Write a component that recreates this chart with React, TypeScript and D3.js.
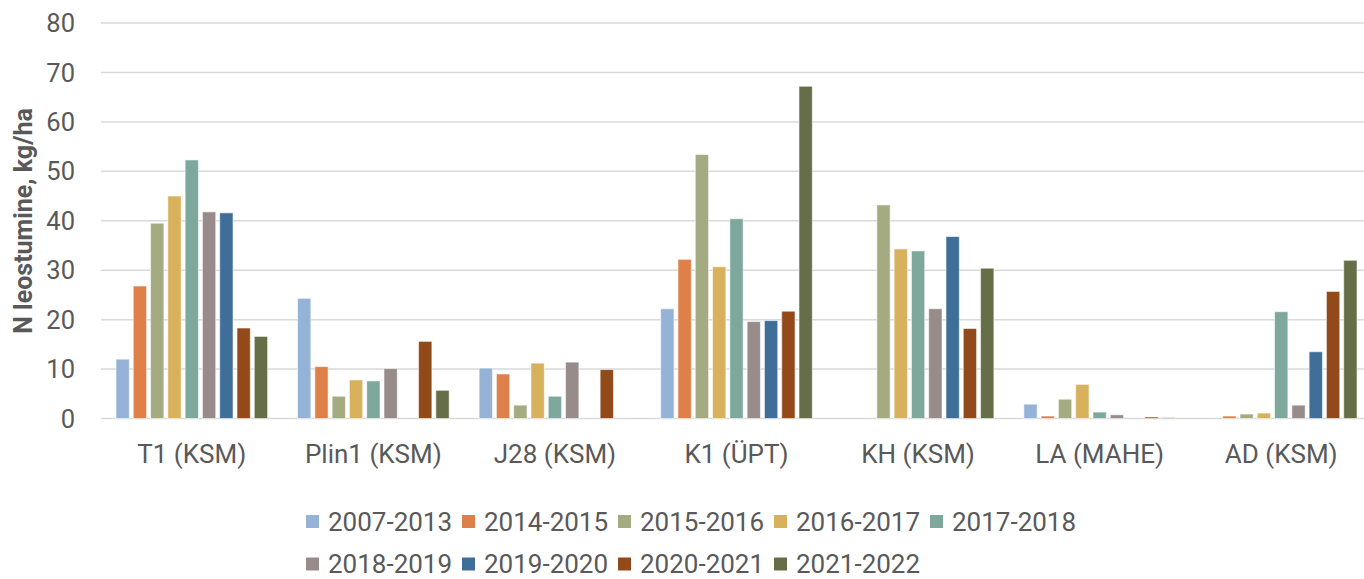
import React from "react";
import * as d3 from "d3";

const categories = ["T1 (KSM)", "Plin1 (KSM)", "J28 (KSM)", "K1 (ÜPT)", "KH (KSM)", "LA (MAHE)", "AD (KSM)"];
const seriesNames = ["2007-2013", "2014-2015", "2015-2016", "2016-2017", "2017-2018", "2018-2019", "2019-2020", "2020-2021", "2021-2022"];
const seriesColors = ["#95B3D7", "#DE8048", "#A5AB80", "#D8B15C", "#7EA89C", "#978C8A", "#3F6F98", "#934A1B", "#666E47"];

const v2007_2013 = [12.0, 24.3, 10.2, 22.2, null, 2.9, null];
const v2014_2015 = [26.8, 10.5, 9.0, 32.2, null, 0.5, 0.5];
const v2015_2016 = [39.5, 4.5, 2.7, 53.4, 43.2, 3.9, 0.9];
const v2016_2017 = [45.0, 7.8, 11.2, 30.7, 34.3, 6.9, 1.1];
const v2017_2018 = [52.3, 7.6, 4.5, 40.4, 33.9, 1.3, 21.6];
const v2018_2019 = [41.8, 10.1, 11.4, 19.6, 22.2, 0.75, 2.7];
const v2019_2020 = [41.6, null, null, 19.8, 36.8, null, 13.5];
const v2020_2021 = [18.3, 15.6, 9.9, 21.7, 18.2, 0.3, 25.7];
const v2021_2022 = [16.6, 5.7, null, 67.2, 30.4, 0.15, 32.0];

const seriesValues: (number | null)[][] = [
  v2007_2013, v2014_2015, v2015_2016, v2016_2017, v2017_2018,
  v2018_2019, v2019_2020, v2020_2021, v2021_2022,
];

const yTicks = [0, 10, 20, 30, 40, 50, 60, 70, 80];
const yTitle = "N leostumine, kg/ha";

const W = 1364;
const H = 579;
const FONT = "Roboto, 'Noto Sans', sans-serif";
const TEXT = "#595959";

export default function App() {
  const x0 = d3.scaleBand<string>().domain(categories).range([101, 1372]).paddingInner(0.165).paddingOuter(0.0825);
  const x1 = d3.scaleBand<string>().domain(seriesNames).range([0, x0.bandwidth()]).paddingInner(0.23).paddingOuter(0);
  const y = d3.scaleLinear().domain([0, 80]).range([418.5, 23]);

  const legendCols = 5;
  const legendX0 = 306;
  const legendColW = 156;
  const legendY0 = 521.5;
  const legendRowH = 42.5;

  return (
    <svg width={W} height={H} style={{ position: "absolute", left: 0, top: 0, display: "block" }} fontFamily={FONT}>
      <rect width={W} height={H} fill="#fff" />
      {yTicks.map((t) => (
        <g key={t}>
          <line x1={101} x2={W} y1={y(t)} y2={y(t)} stroke="#D9D9D9" strokeWidth={1.5} />
          <text x={75} y={y(t)} dy="0.36em" textAnchor="end" fontSize={25.5} fill={TEXT}>{t}</text>
        </g>
      ))}
      {categories.map((c, ci) => (
        <g key={c} transform={`translate(${x0(c)},0)`}>
          {seriesNames.map((s, si) => {
            const v = seriesValues[si][ci];
            if (v === null || v === undefined) return null;
            return (
              <rect key={s} x={x1(s)} y={y(v)} width={x1.bandwidth()} height={y(0) - y(v)}
                fill={seriesColors[si]} stroke="#fff" strokeOpacity={0.55} strokeWidth={1} />
            );
          })}
          <text x={x0.bandwidth() / 2} y={454} dy="0.36em" textAnchor="middle" fontSize={26} fill={TEXT}>{c}</text>
        </g>
      ))}
      <text transform={`translate(23,221) rotate(-90)`} textAnchor="middle" dy="0.36em" fontSize={25} fontWeight="bold" fill={TEXT}>{yTitle}</text>
      {seriesNames.map((s, i) => {
        const col = i % legendCols;
        const row = Math.floor(i / legendCols);
        const lx = legendX0 + col * legendColW;
        const ly = legendY0 + row * legendRowH;
        return (
          <g key={s}>
            <rect x={lx} y={ly - 6.5} width={13} height={13} fill={seriesColors[i]} />
            <text x={lx + 22} y={ly} dy="0.36em" fontSize={26} fill={TEXT}>{s}</text>
          </g>
        );
      })}
    </svg>
  );
}
